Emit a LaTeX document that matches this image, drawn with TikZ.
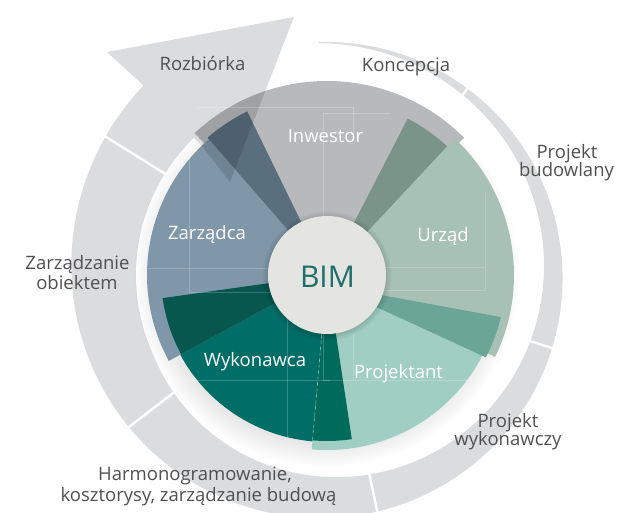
\documentclass[tikz,border=0pt]{standalone}
\usepackage{fontspec}
\setmainfont{Open Sans}
\begin{document}
\begin{tikzpicture}[x=1pt,y=1pt,
  lbl/.style={font=\fontsize{18.5}{20}\selectfont, text=labelgray, anchor=base, inner sep=0pt},
  wlbl/.style={font=\fontsize{18.5}{20}\selectfont, text=white, anchor=base, inner sep=0pt},
  divider/.style={white, line width=2.4pt},
  guide/.style={white, opacity=0.2, line width=0.6pt},
  arrowhd/.style={insert path={(-183,189) -- (-220,223) -- (-33,258) -- (-97,93) -- (-125,129) -- cycle}}
]
\definecolor{ringgray}{HTML}{DBDCDE}
\definecolor{inwcol}{HTML}{B8B9BB}
\definecolor{urzcol}{HTML}{A7C1B7}
\definecolor{urzwedge}{HTML}{7B9489}
\definecolor{procol}{HTML}{A0CEC3}
\definecolor{promid}{HTML}{6BA596}
\definecolor{wykcol}{HTML}{006E66}
\definecolor{wykdark}{HTML}{07574F}
\definecolor{wykbot}{HTML}{006A5B}
\definecolor{zarcol}{HTML}{7F97A9}
\definecolor{slate}{HTML}{5A6F7E}
\definecolor{bimfill}{HTML}{E4E5E0}
\definecolor{bimtext}{HTML}{1E6E6B}
\definecolor{labelgray}{HTML}{505050}

\useasboundingbox (-327,-238) rectangle (294,275);

% spiral ring (shaft)
\fill[ringgray] plot[domain=0:318,samples=120,variable=\p] ({92-\p}:{233+0.0003*\p*\p})
  -- plot[domain=318:0,samples=120,variable=\p] ({92-\p}:{232-0.165*\p}) -- cycle;
% dividers between phases
\foreach \a/\ri/\ro in {53/222/236, -18/208/241, -78/196/248, -142.5/188/253, 148/186/263}
  \draw[divider] (\a:\ri) -- (\a:\ro);

% white disk and soft shadow
\fill[white] (0,0) circle (191);
\foreach \r in {170,172,...,192} \fill[black, opacity=0.008] (0,0) circle (\r);

% arrow head
\fill[ringgray, arrowhd];

% sectors
\fill[inwcol] (0,0) -- (45:194) arc[start angle=45, end angle=133, radius=194] -- cycle;
\fill[urzcol] (0,0) -- (-26:187) arc[start angle=-26, end angle=47, radius=187] -- cycle;
\fill[urzwedge] (0,0) -- (47:176) arc[start angle=47, end angle=62.7, radius=176] -- cycle;
\fill[procol] (0,0) -- (265:175) arc[start angle=265, end angle=334, radius=175] -- cycle;
\fill[promid] (43,-18) -- (-13.6:179) arc[start angle=-13.6, end angle=-27.4, radius=179] -- (45,-30) -- cycle;
\fill[zarcol] (0,0) -- (131:180) arc[start angle=131, end angle=208.5, radius=180] -- cycle;
\fill[slate] (0,0) -- (116:182) arc[start angle=116, end angle=131, radius=182] -- cycle;
\fill[wykcol] (0,0) -- (208.5:167) arc[start angle=208.5, end angle=265, radius=167] -- cycle;
\fill[wykdark] (0,0) -- (188:166) arc[start angle=188, end angle=208.5, radius=166] -- cycle;
\fill[wykbot] (0,0) -- (265:166) arc[start angle=265, end angle=278.6, radius=166] -- cycle;

% arrow head seen through the sectors
\begin{scope}
  \clip[arrowhd];
  \fill[black, opacity=0.13] (0,0) -- (45:194) arc[start angle=45, end angle=133, radius=194]
     -- (133:180) arc[start angle=133, end angle=208.5, radius=180] -- cycle;
\end{scope}

% faint guide frames
\draw[guide] (-130,168) -- (26,168) -- (26,140);
\draw[guide] (-4,162) -- (63,162);
\draw[guide] (-4,162) -- (-4,35);
\draw[guide] (-138,125) -- (-138,-17) -- (-57,-17);
\draw[guide] (-180,7) -- (-57,7);
\draw[guide] (-40,-25) -- (-40,-165);
\draw[guide] (-140,-105) -- (3,-105);
\draw[guide] (-4,-60) -- (-4,-105) -- (153,-105);
\draw[guide] (26,-58) -- (26,-105);
\draw[guide] (158,83) -- (158,-15) -- (53,-15);
\draw[guide] (50,8) -- (158,8);
\draw[white, opacity=0.5, line width=0.6pt, dashed] (265:60) -- (265:166);

% centre
\foreach \r in {60,61.5,63,64.5} \fill[black, opacity=0.03] (0,-1) circle (\r);
\node[circle, fill=bimfill, minimum size=118pt, inner sep=0pt] (bim) at (0,0) {};
\node[font=\fontsize{30}{32}\selectfont, text=bimtext, anchor=base, inner sep=0pt] (bimlbl) at (0.5,-13) {BIM};

% sector labels
\node[wlbl] (inw) at (-1.5,132) {Inwestor};
\node[wlbl] (urz) at (116,33.3) {Urząd};
\node[wlbl] (zar) at (-120,35) {Zarządca};
\node[wlbl] (wyk) at (-72,-92) {Wykonawca};
\node[wlbl] (pro) at (71.5,-104) {Projektant};

% phase labels
\node[lbl] (roz) at (-124.5,204) {Rozbiórka};
\node[lbl] (kon) at (79,203) {Koncepcja};
\node[lbl] (pb1) at (240,116) {Projekt};
\node[lbl] (pb2) at (239.5,98) {budowlany};
\node[lbl] (pw1) at (181,-153) {Projekt};
\node[lbl] (pw2) at (181,-171) {wykonawczy};
\node[lbl] (hb1) at (-132,-205) {Harmonogramowanie,};
\node[lbl] (hb2) at (-128.5,-226.7) {kosztorysy, zarządzanie budową};
\node[lbl] (zo1) at (-249.5,5) {Zarządzanie};
\node[lbl] (zo2) at (-250,-15) {obiektem};
\end{tikzpicture}
\end{document}
